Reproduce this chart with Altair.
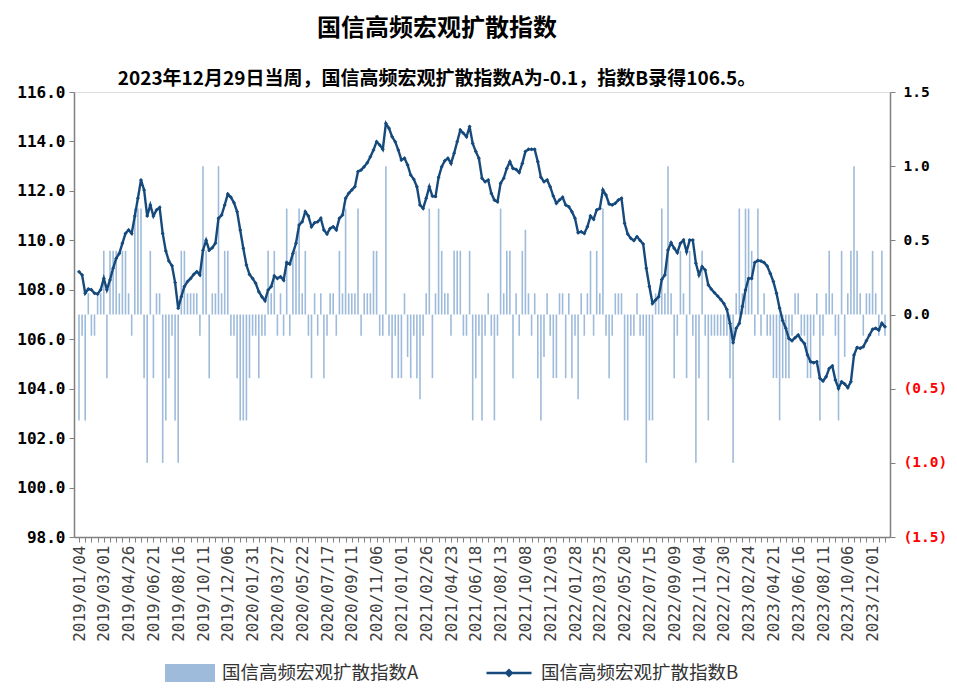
import altair as alt
import pandas as pd

NAME_A = "国信高频宏观扩散指数A"
NAME_B = "国信高频宏观扩散指数B"
TITLE = "国信高频宏观扩散指数"
SUBTITLE = "2023年12月29日当周，国信高频宏观扩散指数A为-0.1，指数B录得106.5。"

# weekly dates (Fridays) 2019/01/04 .. 2023/12/29
weeks = pd.date_range("2019-01-04", periods=261, freq="7D").strftime("%Y/%m/%d").tolist()

tick_labels = [
    "2019/01/04", "2019/03/01", "2019/04/26", "2019/06/21", "2019/08/16", "2019/10/11",
    "2019/12/06", "2020/01/31", "2020/03/27", "2020/05/22", "2020/07/17", "2020/09/11",
    "2020/11/06", "2021/01/01", "2021/02/26", "2021/04/23", "2021/06/18", "2021/08/13",
    "2021/10/08", "2021/12/03", "2022/01/28", "2022/03/25", "2022/05/20", "2022/07/15",
    "2022/09/09", "2022/11/04", "2022/12/30", "2023/02/24", "2023/04/21", "2023/06/16",
    "2023/08/11", "2023/10/06", "2023/12/01",
]

index_a = [
    -0.714, -0.143, -0.714, 0.143, -0.143, -0.143, 0.143, 0.143, 0.429, -0.429,
    0.429, 0.429, 0.429, 0.143, 0.429, 0.429, 0.143, -0.143, 0.714, 0.714,
    0.714, -0.429, -1.0, 0.429, -0.429, 0.143, 0.143, -1.0, -0.714, -0.429,
    -0.143, -0.714, -1.0, 0.429, 0.429, 0.143, 0.143, 0.143, 0.143, -0.143,
    1.0, 0.429, -0.429, 0.143, 0.143, 1.0, 0.143, 0.429, 0.429, -0.143,
    -0.143, -0.429, -0.714, -0.714, -0.714, -0.429, -0.143, -0.143, -0.429, -0.143,
    -0.143, 0.429, 0.143, 0.429, -0.143, 0.143, -0.143, 0.714, -0.143, 0.429,
    0.429, 0.714, 0.143, 0.429, -0.143, -0.429, 0.143, -0.143, 0.143, -0.429,
    -0.143, 0.143, 0.143, -0.143, 0.429, 0.143, 0.714, 0.143, 0.143, 0.143,
    0.714, -0.143, 0.143, 0.143, 0.143, 0.429, 0.429, -0.143, -0.143, 1.0,
    -0.143, -0.429, -0.143, -0.429, -0.429, 0.143, -0.286, -0.429, -0.143, -0.429,
    -0.571, -0.143, 0.143, 0.714, -0.429, 0.143, 0.714, 0.429, 0.143, 0.143,
    -0.143, 0.429, 0.429, 0.429, -0.143, -0.143, 0.429, -0.714, -0.429, -0.143,
    -0.714, -0.143, 0.143, -0.143, -0.714, -0.143, 0.714, 0.143, 0.429, 0.429,
    -0.429, 0.143, -0.143, 0.429, 0.571, 0.143, -0.143, 0.143, -0.429, -0.714,
    -0.286, 0.143, -0.143, -0.429, -0.429, 0.143, 0.143, -0.429, 0.143, -0.429,
    -0.143, -0.571, 0.143, -0.143, 0.143, 0.429, -0.143, 0.429, 0.143, 0.714,
    -0.143, -0.429, -0.143, 0.143, 0.143, 0.143, -0.714, -0.714, -0.143, -0.143,
    0.143, -0.143, -0.143, -1.0, -0.714, -0.714, 0.143, 0.143, 0.714, 0.143,
    1.0, 0.143, -0.429, -0.143, 0.429, 0.143, -0.429, 0.429, -0.143, -1.0,
    -0.429, 0.429, -0.143, -0.714, -0.143, -0.143, -0.143, -0.143, -0.143, -0.143,
    -0.429, -1.0, 0.143, 0.714, 0.143, 0.714, 0.714, 0.429, -0.143, 0.714,
    -0.143, 0.143, -0.143, -0.143, -0.429, -0.429, -0.714, -0.429, -0.429, -0.429,
    -0.143, 0.143, 0.143, -0.143, -0.143, -0.429, -0.429, -0.143, 0.143, -0.714,
    -0.143, 0.143, 0.429, 0.143, -0.143, -0.714, 0.429, -0.286, 0.143, 0.429,
    1.0, 0.429, 0.143, -0.143, 0.143, 0.143, 0.429, 0.143, -0.143, 0.429,
    -0.143,
]

index_b = [
    108.73, 108.60, 107.86, 108.03, 108.00, 107.86, 107.83, 108.00, 108.46, 108.00,
    108.40, 108.87, 109.27, 109.47, 109.88, 110.28, 110.42, 110.28, 110.98, 111.70,
    112.44, 112.04, 110.98, 111.43, 110.98, 111.23, 111.33, 110.28, 109.57, 109.16,
    108.97, 108.29, 107.25, 107.72, 108.13, 108.33, 108.46, 108.62, 108.73, 108.60,
    109.60, 110.00, 109.60, 109.70, 109.88, 110.89, 111.02, 111.43, 111.87, 111.74,
    111.52, 111.16, 110.42, 109.68, 109.00, 108.62, 108.46, 108.26, 107.92, 107.72,
    107.56, 107.99, 108.13, 108.56, 108.46, 108.53, 108.39, 109.10, 109.04, 109.47,
    109.88, 110.62, 110.75, 111.16, 110.98, 110.55, 110.71, 110.75, 110.89, 110.42,
    110.26, 110.48, 110.55, 110.42, 110.89, 111.02, 111.70, 111.90, 112.04, 112.17,
    112.78, 112.84, 112.98, 113.14, 113.38, 113.65, 113.99, 113.86, 113.68, 114.73,
    114.53, 114.19, 113.99, 113.65, 113.25, 113.32, 113.05, 112.64, 112.47, 112.17,
    111.43, 111.29, 111.70, 112.17, 111.79, 111.77, 112.55, 112.98, 113.22, 113.32,
    113.11, 113.52, 113.99, 114.46, 114.33, 114.19, 114.60, 113.92, 113.59, 113.32,
    112.51, 112.37, 112.44, 111.90, 111.63, 111.56, 112.31, 112.51, 112.91, 113.18,
    112.91, 112.87, 112.74, 113.11, 113.59, 113.68, 113.68, 113.68, 113.18, 112.55,
    112.37, 112.44, 112.17, 111.79, 111.50, 111.63, 111.74, 111.43, 111.36, 111.16,
    110.89, 110.31, 110.35, 110.28, 110.55, 110.98, 110.85, 111.23, 111.29, 112.04,
    111.83, 111.47, 111.43, 111.50, 111.63, 111.70, 110.69, 110.26, 110.08, 109.99,
    110.15, 109.99, 109.85, 108.87, 108.13, 107.45, 107.59, 107.72, 108.42, 108.60,
    109.61, 109.90, 109.68, 109.50, 109.88, 110.01, 109.54, 110.01, 110.01, 109.07,
    108.60, 108.93, 108.80, 108.19, 108.02, 107.88, 107.75, 107.61, 107.45, 107.20,
    106.64, 105.86, 106.44, 106.64, 107.32, 107.99, 108.46, 108.46, 109.10, 109.18,
    109.16, 109.10, 108.96, 108.66, 108.33, 107.86, 107.25, 106.75, 106.44, 106.03,
    105.94, 106.06, 106.17, 105.97, 105.83, 105.36, 105.09, 105.05, 105.09, 104.42,
    104.31, 104.48, 104.82, 104.92, 104.35, 104.01, 104.28, 104.19, 104.04, 104.28,
    105.36, 105.67, 105.63, 105.70, 105.94, 106.17, 106.40, 106.44, 106.37, 106.65,
    106.50,
]

n = len(weeks)
df = pd.DataFrame({
    "t": list(range(n)),
    "date": weeks,
    "A": index_a[:n],
    "B": index_b[:n],
    "sa": NAME_A,
    "sb": NAME_B,
})

BAR_COLOR = "#9ebbdb"
LINE_COLOR = "#164a7c"
AXIS_GRAY = "#808080"

labs_js = "[" + ",".join("'%s'" % s for s in tick_labels) + "]"
x_label_expr = "datum.value % 8 === 0 ? " + labs_js + "[datum.value / 8] : ''"

x_enc = alt.X(
    "t:Q",
    title=None,
    scale=alt.Scale(domain=[0, n - 1], nice=False, zero=False),
    axis=alt.Axis(
        values=list(range(0, n, 2)),
        labelExpr=x_label_expr,
        labelAngle=270,
        labelFont="DejaVu Sans Mono",
        labelFontSize=16,
        labelColor="#404040",
        labelPadding=3,
        labelOverlap=False,
        labelFlush=False,
        tickSize=5,
        tickColor=AXIS_GRAY,
        domainColor=AXIS_GRAY,
        domainWidth=1.5,
        grid=False,
    ),
)

bars = alt.Chart(df).mark_bar(size=1.6).encode(
    x=x_enc,
    y=alt.Y(
        "A:Q",
        title=None,
        scale=alt.Scale(domain=[-1.5, 1.5], nice=False),
        axis=alt.Axis(
            orient="right",
            values=[-1.5, -1.0, -0.5, 0.0, 0.5, 1.0, 1.5],
            labelExpr="datum.value < 0 ? '(' + format(-datum.value, '.1f') + ')' : format(datum.value, '.1f')",
            labelColor={"condition": {"test": "datum.value < 0", "value": "#FF0000"}, "value": "#000000"},
            labelFont="DejaVu Sans Mono",
            labelFontWeight="bold",
            labelFontSize=14.5,
            labelPadding=8,
            tickSize=5,
            tickColor=AXIS_GRAY,
            domainColor=AXIS_GRAY,
            domainWidth=1.5,
            grid=False,
        ),
    ),
    color=alt.Color(
        "sa:N",
        scale=alt.Scale(domain=[NAME_A], range=[BAR_COLOR]),
        legend=alt.Legend(
            title=None,
            orient="none",
            legendX=91,
            legendY=556,
            symbolType="M-1,-0.36H1V0.36H-1Z",
            symbolSize=2500,
            symbolStrokeWidth=0,
            labelFont="Noto Sans CJK SC",
            labelFontSize=18.5,
            labelColor="#333333",
            labelOffset=7,
            labelLimit=400,
            padding=0,
        ),
    ),
)

line = alt.Chart(df).mark_line(
    strokeWidth=2.4,
    point=alt.OverlayMarkDef(shape="diamond", size=16, filled=True, color=LINE_COLOR),
).encode(
    x=x_enc,
    y=alt.Y(
        "B:Q",
        title=None,
        scale=alt.Scale(domain=[98, 116], nice=False, zero=False),
        axis=alt.Axis(
            orient="left",
            values=list(range(98, 117, 2)),
            format=".1f",
            labelFont="DejaVu Sans Mono",
            labelFontWeight="bold",
            labelFontSize=16,
            labelColor="#000000",
            labelPadding=4,
            tickSize=5,
            tickColor=AXIS_GRAY,
            domainColor=AXIS_GRAY,
            domainWidth=1.5,
            grid=False,
        ),
    ),
    color=alt.Color(
        "sb:N",
        scale=alt.Scale(domain=[NAME_B], range=[LINE_COLOR]),
        legend=alt.Legend(
            title=None,
            orient="none",
            legendX=411,
            legendY=557,
            symbolType="M-1,0H1M-0.12,0L0,-0.12L0.12,0L0,0.12Z",
            symbolSize=2025,
            symbolStrokeWidth=2.5,
            symbolFillColor=LINE_COLOR,
            labelFont="Noto Sans CJK SC",
            labelFontSize=18.5,
            labelColor="#333333",
            labelOffset=8,
            labelLimit=400,
            padding=0,
        ),
    ),
)

chart = (
    alt.layer(bars, line)
    .resolve_scale(y="independent", color="independent")
    .properties(
        width=816,
        height=445,
        padding={"left": 66, "top": 84, "right": 59, "bottom": 147},
        autosize=alt.AutoSizeParams(type="none"),
        title=alt.TitleParams(
            text=TITLE,
            subtitle=SUBTITLE,
            font="Noto Sans CJK SC",
            fontSize=24,
            fontWeight="bold",
            color="#000000",
            subtitleFont="Noto Sans CJK SC",
            subtitleFontSize=19,
            subtitleFontWeight="bold",
            subtitleColor="#000000",
            subtitlePadding=29,
            anchor="middle",
            frame="group",
            dx=-45,
            offset=-5,
        ),
    )
    .configure_view(strokeOpacity=0)
    .configure(background="#ffffff")
)

chart.save("out.html", embed_options={"renderer": "svg", "actions": False})
